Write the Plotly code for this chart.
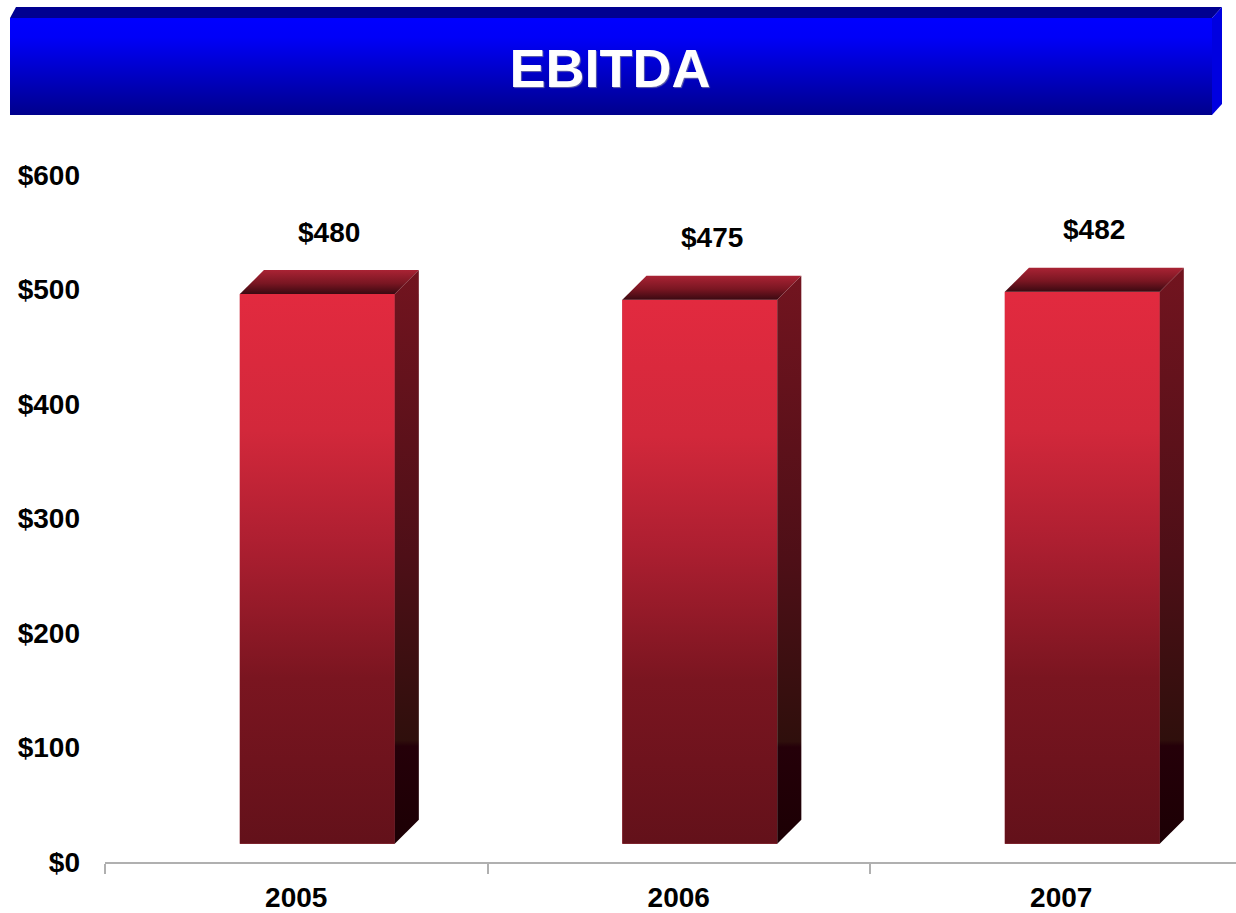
import base64
import plotly.graph_objects as go

# --- data ---
years = ['2005', '2006', '2007']
ebitda = [480, 475, 482]
y_ticks = [0, 100, 200, 300, 400, 500, 600]

FONT = 'Liberation Sans, Arial, sans-serif'
W, H = 1236, 913
ML, MR, MT, MB = 105, 0, 175, 51

# 3d look of the bars (axis units)
BASE = 16          # front face sits a bit above the floor
BAR_W = 0.405
SHIFT = 0.055      # front face shifted right from the category centre
DX, DY = 0.063, 21  # depth offset

front_scale = [[0, '#63111A'], [0.3, '#7A1520'], [0.55, '#AE1F31'],
               [0.75, '#D2283B'], [1, '#E22A3F']]
side_scale = [[0, '#1C0004'], [0.17, '#250009'], [0.18, '#2F0F0C'],
              [0.5, '#4E0F17'], [1, '#72141F']]
top_scale = [[0, '#3A0911'], [0.45, '#7A1622'], [1, '#A92334']]

xs = list(range(len(years)))
fig = go.Figure()

# front faces as real bars
fig.add_trace(go.Bar(
    x=xs, y=ebitda, base=[BASE] * len(xs),
    width=BAR_W, offset=SHIFT - BAR_W / 2,
    marker=dict(color='#B01F30', line=dict(width=0)),
    hoverinfo='skip', showlegend=False,
))

# gradient shading + top and side faces
for i, v in zip(xs, ebitda):
    x0 = i + SHIFT - BAR_W / 2
    x1 = x0 + BAR_W
    top = BASE + v
    faces = [
        ([x0, x1, x1, x0, x0], [BASE, BASE, top, top, BASE], front_scale),
        ([x0, x1, x1 + DX, x0 + DX, x0], [top, top, top + DY, top + DY, top], top_scale),
        ([x1, x1 + DX, x1 + DX, x1, x1], [BASE, BASE + DY, top + DY, top, BASE], side_scale),
    ]
    for fx, fy, cs in faces:
        fig.add_trace(go.Scatter(
            x=fx, y=fy, mode='lines', fill='toself',
            line=dict(width=0, color='rgba(0,0,0,0)'),
            fillgradient=dict(type='vertical', colorscale=cs),
            hoverinfo='skip', showlegend=False,
        ))
    fig.add_annotation(
        x=i + SHIFT + DX / 2, y=top + DY, yshift=38,
        text=f'<b>${v}</b>', showarrow=False,
        font=dict(family=FONT, size=28, color='black'),
    )

# --- blue title banner (svg with gradients) ---
svg = f'''<svg xmlns="http://www.w3.org/2000/svg" width="{W}" height="{H}" viewBox="0 0 {W} {H}">
<defs><linearGradient id="g" x1="0" y1="0" x2="0" y2="1">
<stop offset="0" stop-color="#0000FF"/><stop offset="0.2" stop-color="#0000F8"/>
<stop offset="1" stop-color="#00008C"/></linearGradient></defs>
<polygon points="10,18 16,7 1222,7 1212,18" fill="#000090"/>
<polygon points="1212,18 1222,7 1222,104 1212,115" fill="#0000E0"/>
<rect x="10" y="18" width="1202" height="97" fill="url(#g)"/>
</svg>'''
src = 'data:image/svg+xml;base64,' + base64.b64encode(svg.encode()).decode()
pw, ph = W - ML - MR, H - MT - MB
fig.add_layout_image(
    source=src, xref='paper', yref='paper',
    x=-ML / pw, y=(H - MB) / ph, sizex=W / pw, sizey=H / ph,
    xanchor='left', yanchor='top', sizing='stretch', layer='below',
)

fig.update_layout(
    width=W, height=H,
    margin=dict(l=ML, r=MR, t=MT, b=MB),
    paper_bgcolor='white', plot_bgcolor='white',
    showlegend=False,
    title=dict(text='<b>EBITDA</b>', x=610 / W, xanchor='center',
               y=1 - 68 / H, yanchor='middle', xref='container',
               font=dict(family=FONT, size=54, color='white',
                         shadow='1px 1px 1px #6868A8')),
    xaxis=dict(range=[-0.5, -0.5 + pw / 382.5], tickvals=xs, ticktext=[f'<b>{y}</b>' for y in years],
               ticks='', showgrid=False, zeroline=False,
               showline=True, linecolor='#B0B0B0', linewidth=1.5,
               minor=dict(tickvals=[-0.5, 0.5, 1.5, 2.5], ticks='outside', ticklen=10,
                          tickcolor='#B0B0B0', tickwidth=1.5, showgrid=False),
               tickfont=dict(family=FONT, size=28, color='black'),
               ticklabelstandoff=10, fixedrange=True),
    yaxis=dict(range=[0, 600], tickvals=y_ticks,
               ticktext=[f'<b>${t}</b>' for t in y_ticks],
               showgrid=False, zeroline=False, showline=False, ticks='',
               tickfont=dict(family=FONT, size=28, color='black'),
               ticklabelstandoff=24, fixedrange=True),
)

# page body has a default margin; drop it so the figure fills the window
fig.write_html('out.html', config={'displayModeBar': False},
               post_script="document.body.style.margin='0';")
